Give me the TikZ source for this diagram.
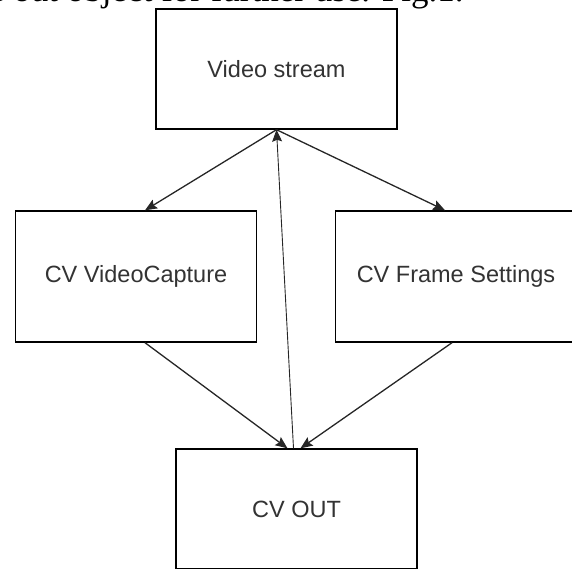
\documentclass[tikz,border=0pt]{standalone}
\usepackage{fontspec}
\setmainfont{Liberation Sans}
\newfontfamily\captionfont{Liberation Serif}
\usetikzlibrary{arrows.meta,positioning}
\definecolor{labelgray}{HTML}{333333}
\begin{document}
\begin{tikzpicture}[x=1pt,y=-1pt,
	box/.style={draw=black,line width=1.4pt,fill=white,text=labelgray,font=\fontsize{23.5}{28}\selectfont,minimum width=241pt,minimum height=120pt,inner sep=0pt},
	tall/.style={minimum height=131pt},
	link/.style={draw=black!85,line width=1.3pt,-{Stealth[length=12pt,width=10pt,inset=2pt]}},
	thinlink/.style={link,line width=0.9pt}]
	\useasboundingbox (0,0) rectangle (572,568);
	\clip (0,0) rectangle (572,568);
	% text of the page above the figure
	\node[anchor=base west,inner sep=0pt,font=\captionfont\fontsize{35}{40}\selectfont] (pagetext) at (-11,1.5) {e out object for further use. Fig.1.};
	% blocks
	\node[box] (stream) at (276.5,69) {Video stream};
	\node[box,tall] (capture) at (136,276.5) {CV VideoCapture};
	\node[box,tall] (frame) at (456,276.5) {CV Frame Settings};
	\node[box] (out) at (296.5,509) {CV OUT};
	% links
	\draw[link] (stream.south) -- ([xshift=9pt]capture.north);
	\draw[link] (stream.south) -- ([xshift=-11pt]frame.north);
	\draw[link] ([xshift=9pt]capture.south) -- ([xshift=-9pt]out.north);
	\draw[link] ([xshift=-4pt]frame.south) -- ([xshift=4pt]out.north);
	\draw[thinlink] ([xshift=-3pt]out.north) -- (stream.south);
\end{tikzpicture}
\end{document}
